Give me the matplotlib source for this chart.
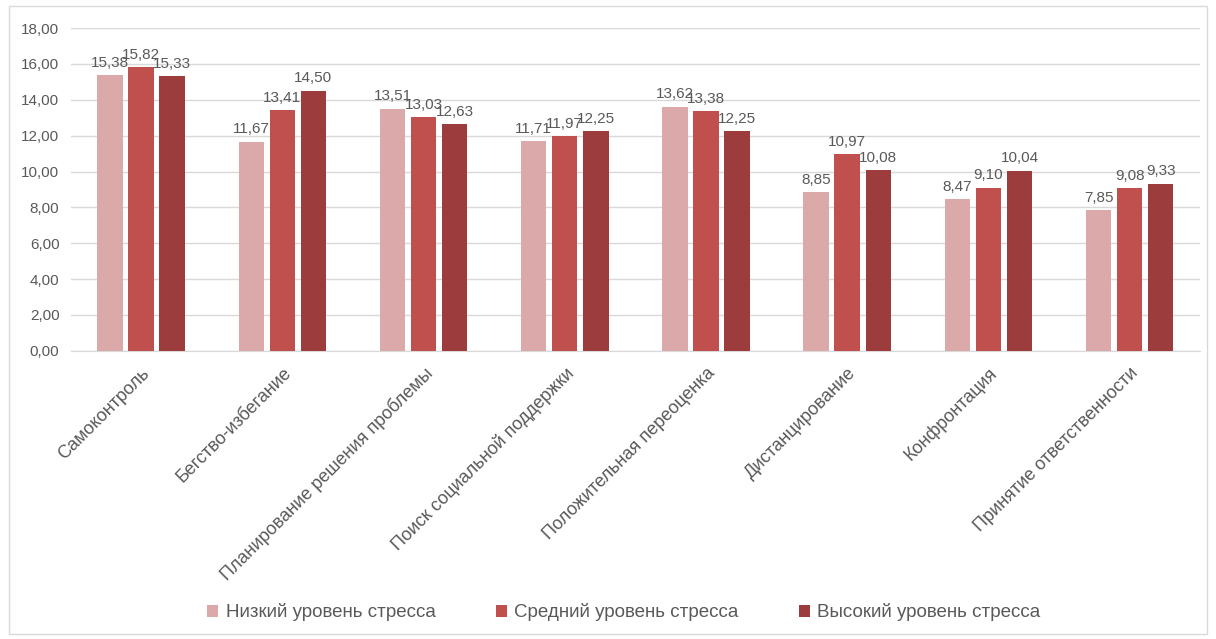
import matplotlib.pyplot as plt
import numpy as np
from matplotlib.patches import Rectangle

plt.rcParams['font.family'] = ['Liberation Sans', 'DejaVu Sans']

categories = ["Самоконтроль", "Бегство-избегание", "Планирование решения проблемы",
              "Поиск социальной поддержки", "Положительная переоценка",
              "Дистанцирование", "Конфронтация", "Принятие ответственности"]
low = [15.38, 11.67, 13.51, 11.71, 13.62, 8.85, 8.47, 7.85]
mid = [15.82, 13.41, 13.03, 11.97, 13.38, 10.97, 9.10, 9.08]
high = [15.33, 14.50, 12.63, 12.25, 12.25, 10.08, 10.04, 9.33]
series_names = ["Низкий уровень стресса", "Средний уровень стресса", "Высокий уровень стресса"]
colors = ["#DBA9A9", "#C0504D", "#9C3C3C"]
text_col = "#595959"

fig = plt.figure(figsize=(12.16, 6.39), dpi=100)
fig.patches.append(Rectangle((0.007, 0.008), 0.986, 0.982, transform=fig.transFigure,
                             fill=False, edgecolor="#D9D9D9", linewidth=1))
ax = fig.add_axes([0.058, 0.451, 0.929, 0.505])

x = np.arange(len(categories))
w = 0.18
step = 0.22
for i, (vals, name, c) in enumerate(zip([low, mid, high], series_names, colors)):
    pos = x + (i - 1) * step
    bars = ax.bar(pos, vals, width=w, color=c, label=name, zorder=3)
    for b, v in zip(bars, vals):
        ax.text(b.get_x() + b.get_width() / 2, v + 0.3, f"{v:.2f}".replace(".", ","),
                ha="center", va="bottom", fontsize=11, color=text_col, zorder=4)

ax.set_xlim(-0.5, len(categories) - 0.5)
ax.set_ylim(0, 18)
ax.set_yticks(np.arange(0, 19, 2))
ax.set_yticklabels([f"{t:.2f}".replace(".", ",") for t in np.arange(0, 19, 2)],
                   fontsize=11, color=text_col)
ax.yaxis.grid(True, color="#D9D9D9", linewidth=1, zorder=0)
ax.set_xticks(x)
ax.set_xticklabels(categories, rotation=45, ha="right", rotation_mode="anchor",
                   fontsize=13, color=text_col)
ax.tick_params(axis="both", length=0, pad=8)
ax.tick_params(axis="x", pad=10)
for s in ["top", "right", "left"]:
    ax.spines[s].set_visible(False)
ax.spines["bottom"].set_color("#D9D9D9")

fig.legend(loc="center", bbox_to_anchor=(0.513, 0.042), ncol=3, frameon=False,
           fontsize=13.5, labelcolor=text_col, handlelength=0.6, handleheight=0.6,
           columnspacing=3.2, handletextpad=0.4)

fig.savefig("out.png", dpi=100)
